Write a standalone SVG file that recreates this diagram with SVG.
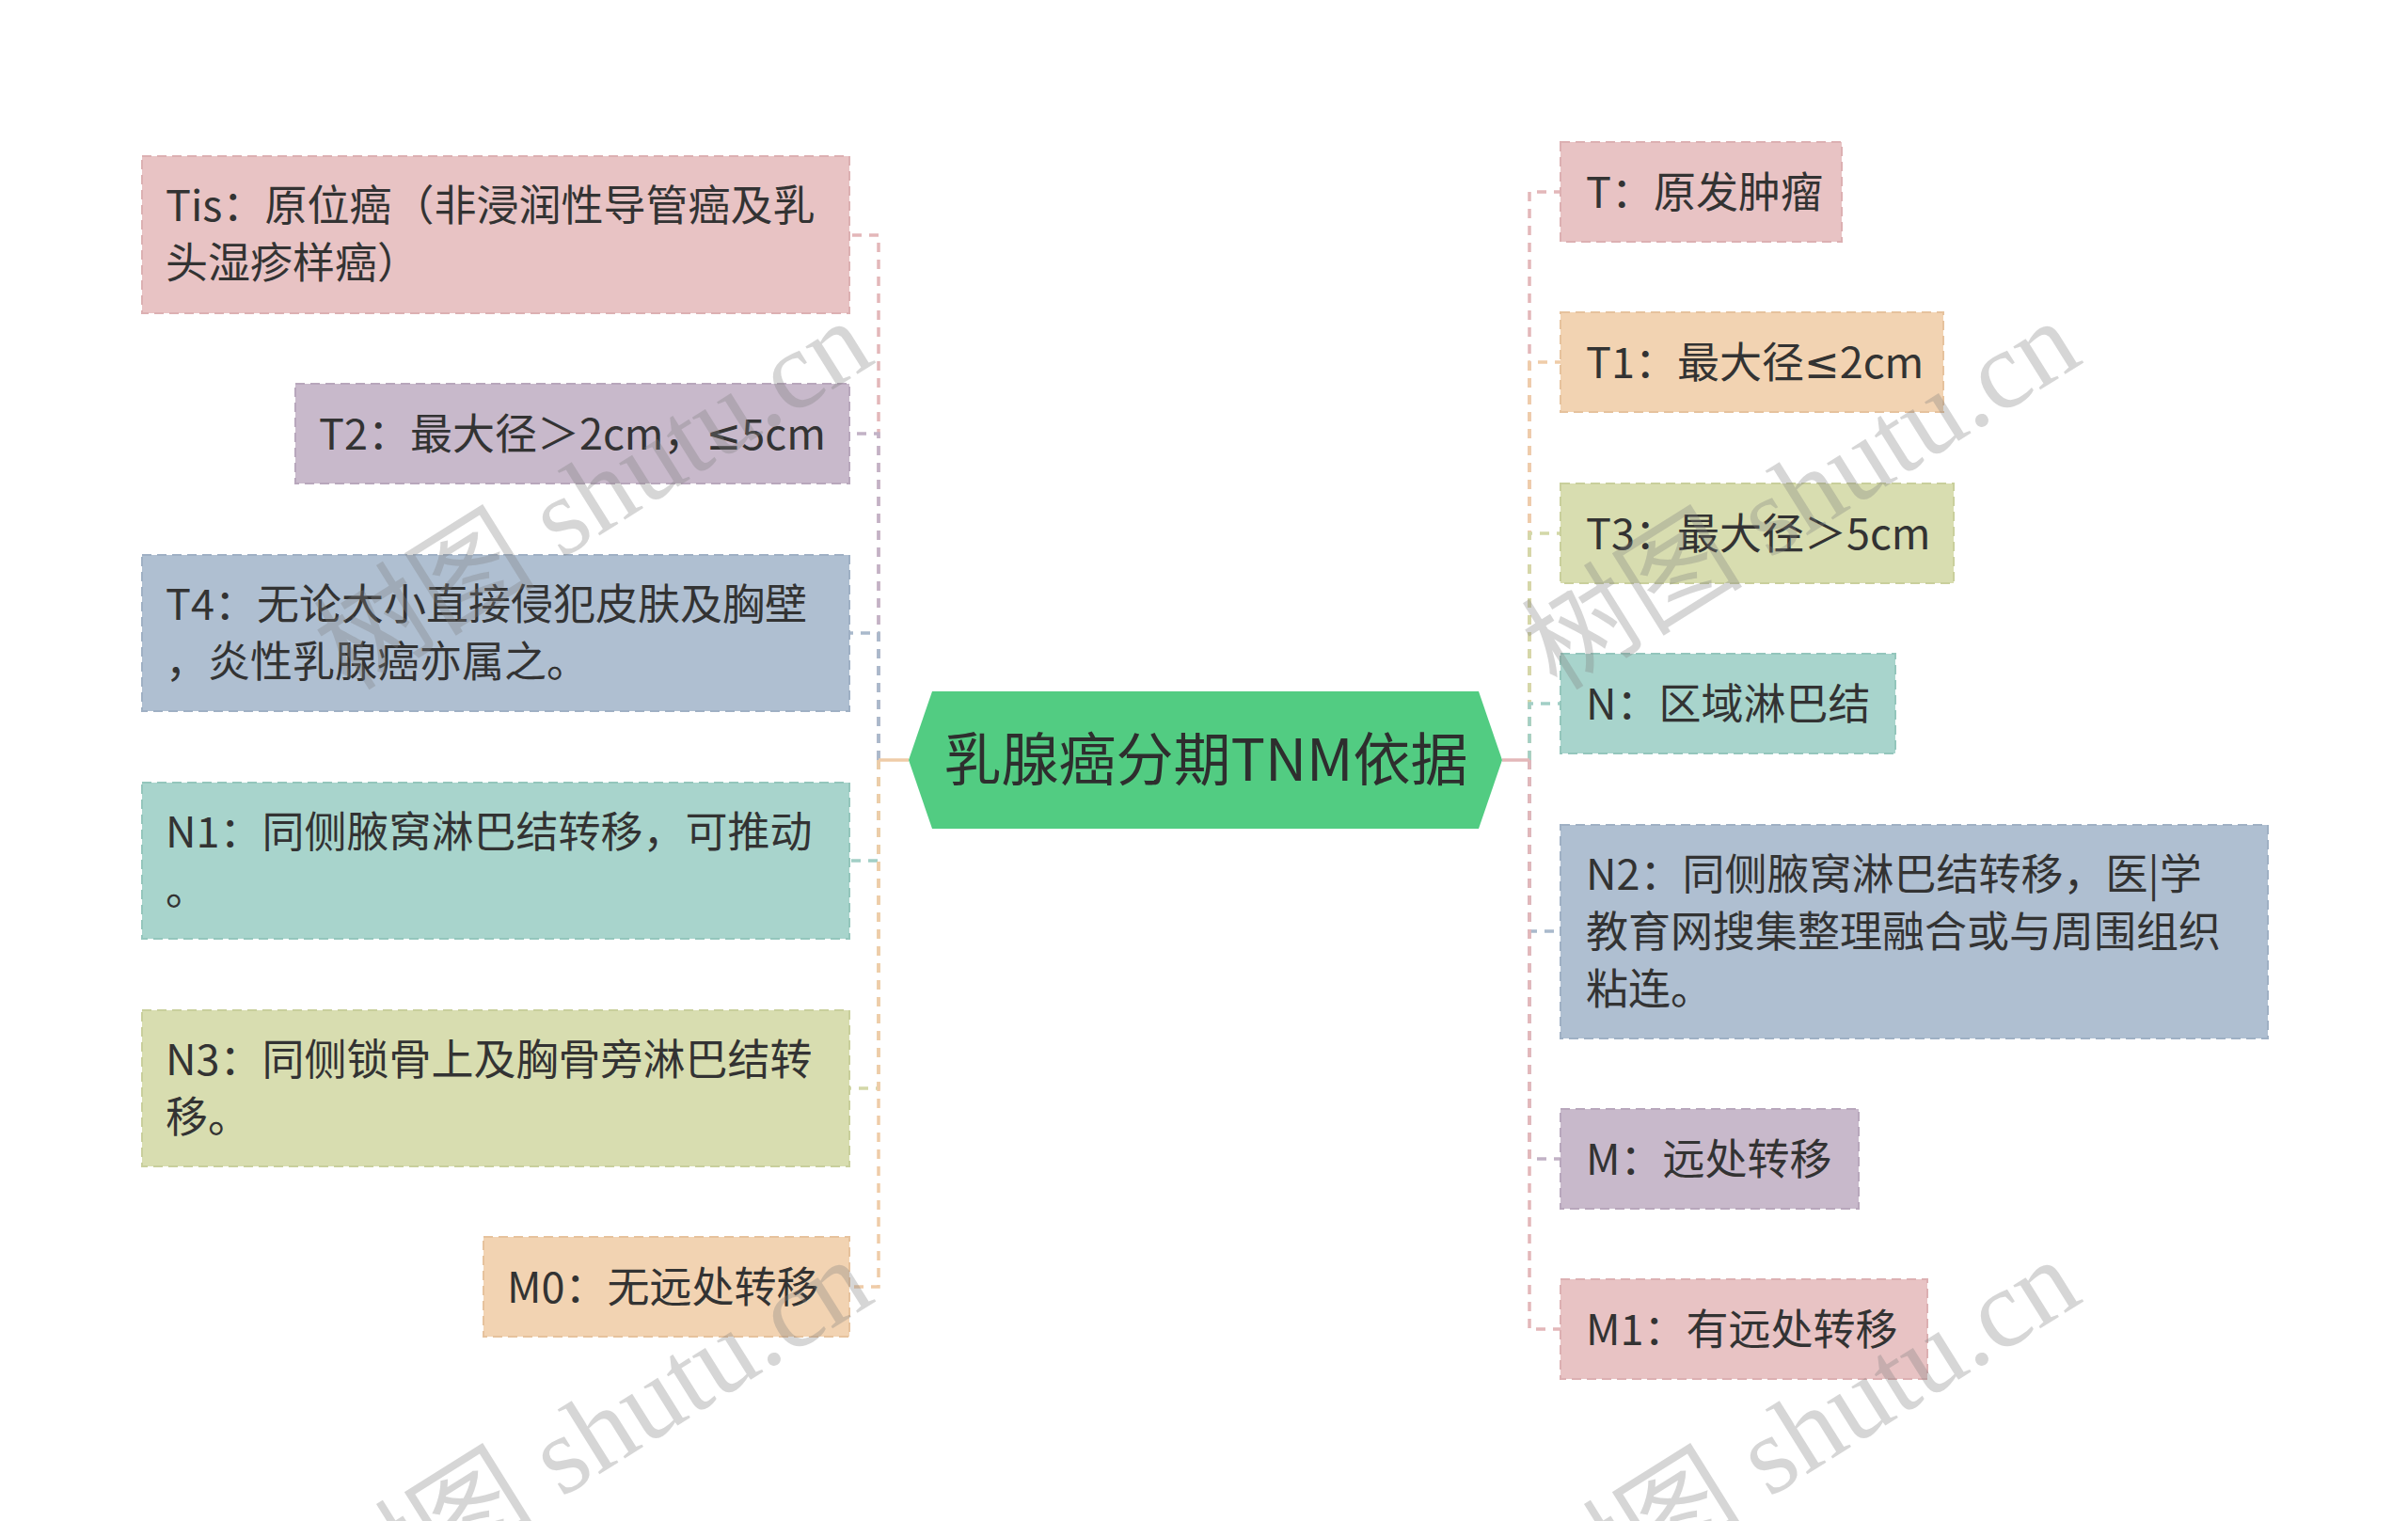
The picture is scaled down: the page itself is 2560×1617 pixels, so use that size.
<svg xmlns="http://www.w3.org/2000/svg" width="2560" height="1617" viewBox="0 0 2560 1617">
<style>
.t{font-family:"Noto Sans CJK SC","Noto Sans",sans-serif;font-size:45px;fill:#333333}
.c{font-family:"Noto Sans CJK SC","Noto Sans",sans-serif;font-size:61px;fill:#2e2e2e}
.lat{font-family:"Noto Sans","DejaVu Sans",sans-serif}
.box{stroke-width:2;stroke-dasharray:10 6}
.ln{fill:none;stroke-width:3.5;stroke-dasharray:10 8}
.pk{fill:#e8c3c4;stroke:#dcb0b2}
.lv{fill:#c8b9cb;stroke:#b8a7bc}
.bg{fill:#afbfd1;stroke:#9fb0c4}
.tl{fill:#a8d4cc;stroke:#94c6bc}
.ol{fill:#d8ddb0;stroke:#c9cf9c}
.pc{fill:#f2d3b2;stroke:#e6c29d}
.wm{font-family:"Liberation Serif","Noto Sans CJK SC",serif;font-size:118px;fill:#808080;fill-opacity:0.32}
</style>
<rect width="2560" height="1617" fill="#ffffff"/>
<g id="connectors">
<path class="ln" stroke="#e3b7b9" d="M934 808V250H903"/>
<path class="ln" stroke="#c2b2c6" d="M934 808V461H903"/>
<path class="ln" stroke="#a9b9cc" d="M934 808V673H903"/>
<path class="ln" stroke="#a2cfc6" d="M934 808V915H903"/>
<path class="ln" stroke="#d3d8a8" d="M934 808V1157H903"/>
<path class="ln" stroke="#efcca8" d="M934 808V1368H903"/>
<path fill="none" stroke="#efcca8" stroke-width="3.5" d="M966 808H934"/>
<path class="ln" stroke="#e3b7b9" d="M1626 808V204H1659"/>
<path class="ln" stroke="#efcca8" d="M1626 808V385H1659"/>
<path class="ln" stroke="#d3d8a8" d="M1626 808V567H1659"/>
<path class="ln" stroke="#a2cfc6" d="M1626 808V748H1659"/>
<path class="ln" stroke="#a9b9cc" d="M1626 808V990H1659"/>
<path class="ln" stroke="#c2b2c6" d="M1626 808V1232H1659"/>
<path class="ln" stroke="#e3b7b9" d="M1626 808V1413H1659"/>
<path fill="none" stroke="#e3b7b9" stroke-width="3.5" d="M1597 808H1626"/>
</g>
<g id="center">
<polygon points="991,735 1572,735 1597,808 1572,881 991,881 966,808" fill="#52cc82"/>
<text class="c" x="1282" y="830" text-anchor="middle">乳腺癌分期TNM依据</text>
</g>
<g id="n-tis"><rect class="box pk" x="151" y="166" width="752" height="167"/>
<text class="t" x="176" y="235">Tis：原位癌（非浸润性导管癌及乳</text>
<text class="t" x="176" y="296">头湿疹样癌）</text></g>
<g id="n-t2"><rect class="box lv" x="314" y="408" width="589" height="106"/>
<text class="t" x="339" y="478">T2：最大径＞2cm，<tspan class="lat">≤</tspan>5cm</text></g>
<g id="n-t4"><rect class="box bg" x="151" y="590" width="752" height="166"/>
<text class="t" x="176" y="659">T4：无论大小直接侵犯皮肤及胸壁</text>
<text class="t" x="176" y="720">，炎性乳腺癌亦属之。</text></g>
<g id="n-n1"><rect class="box tl" x="151" y="832" width="752" height="166"/>
<text class="t" x="176" y="901">N1：同侧腋窝淋巴结转移，可推动</text>
<text class="t" x="176" y="962">。</text></g>
<g id="n-n3"><rect class="box ol" x="151" y="1074" width="752" height="166"/>
<text class="t" x="176" y="1143">N3：同侧锁骨上及胸骨旁淋巴结转</text>
<text class="t" x="176" y="1204">移。</text></g>
<g id="n-m0"><rect class="box pc" x="514" y="1315" width="389" height="106"/>
<text class="t" x="539" y="1385">M0：无远处转移</text></g>
<g id="n-t"><rect class="box pk" x="1659" y="151" width="299" height="106"/>
<text class="t" x="1686" y="221">T：原发肿瘤</text></g>
<g id="n-t1"><rect class="box pc" x="1659" y="332" width="407" height="106"/>
<text class="t" x="1686" y="402">T1：最大径<tspan class="lat">≤</tspan>2cm</text></g>
<g id="n-t3"><rect class="box ol" x="1659" y="514" width="418" height="106"/>
<text class="t" x="1686" y="584">T3：最大径＞5cm</text></g>
<g id="n-n"><rect class="box tl" x="1659" y="695" width="356" height="106"/>
<text class="t" x="1686" y="765">N：区域淋巴结</text></g>
<g id="n-n2"><rect class="box bg" x="1659" y="877" width="752" height="227"/>
<text class="t" x="1686" y="946">N2：同侧腋窝淋巴结转移，医|学</text>
<text class="t" x="1686" y="1007">教育网搜集整理融合或与周围组织</text>
<text class="t" x="1686" y="1068">粘连。</text></g>
<g id="n-m"><rect class="box lv" x="1659" y="1179" width="317" height="106"/>
<text class="t" x="1686" y="1249">M：远处转移</text></g>
<g id="n-m1"><rect class="box pk" x="1659" y="1360" width="390" height="106"/>
<text class="t" x="1686" y="1430">M1：有远处转移</text></g>
<g id="watermarks">
<text class="wm" text-anchor="middle" transform="translate(652,560) rotate(-32)">树图 shutu.cn</text>
<text class="wm" text-anchor="middle" transform="translate(1936,560) rotate(-32)">树图 shutu.cn</text>
<text class="wm" text-anchor="middle" transform="translate(652,1558) rotate(-32)">树图 shutu.cn</text>
<text class="wm" text-anchor="middle" transform="translate(1936,1558) rotate(-32)">树图 shutu.cn</text>
</g>
</svg>
